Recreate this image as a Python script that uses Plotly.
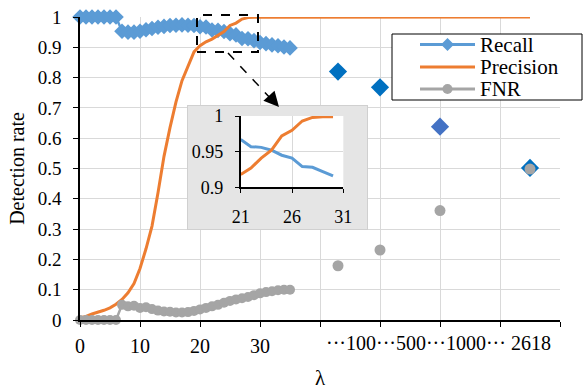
import plotly.graph_objects as go

# ---------------- data ----------------
lam = [0, 1, 2, 3, 4, 5, 6, 7, 8, 9, 10, 11, 12, 13, 14, 15, 16, 17, 18, 19, 20,
       21, 22, 23, 24, 25, 26, 27, 28, 29, 30, 31, 32, 33, 34, 35]
recall = [1.0, 1.0, 1.0, 1.0, 1.0, 1.0, 1.0,
          0.953, 0.950, 0.950, 0.953, 0.958, 0.962, 0.966, 0.969, 0.972, 0.973, 0.974, 0.973, 0.972, 0.968,
          0.967, 0.957, 0.956, 0.952, 0.945, 0.941, 0.929, 0.928, 0.922, 0.916, 0.912, 0.908, 0.905, 0.901, 0.898]
precision = [0.007, 0.012, 0.020, 0.025, 0.032, 0.040, 0.052, 0.068, 0.090, 0.120, 0.170,
             0.235, 0.310, 0.420, 0.540, 0.635, 0.720, 0.790, 0.840, 0.885, 0.905,
             0.918, 0.927, 0.941, 0.952, 0.972, 0.980, 0.993, 0.998, 0.999, 0.999,
             1.0, 1.0, 1.0, 1.0, 1.0]
fnr = [0.0, 0.0, 0.0, 0.0, 0.0, 0.0, 0.0,
       0.050, 0.045, 0.047, 0.040, 0.042, 0.036, 0.031, 0.028, 0.027, 0.025, 0.025, 0.026, 0.030, 0.035,
       0.040, 0.045, 0.050, 0.057, 0.063, 0.068, 0.072, 0.076, 0.082, 0.088, 0.092, 0.095, 0.098, 0.100, 0.100]

# large lambda values shown on a broken axis
big_labels = ["100", "500", "1000", "2618"]
big_axis_pos = [43, 50, 60, 75]
recall_big = [0.820, 0.768, 0.638, 0.502]
precision_big = [1.0, 1.0, 1.0, 1.0]
fnr_big = [0.179, 0.231, 0.361, 0.498]

small_ticks = [0, 10, 20, 30]
inset_range = [21, 31]
series_names = ["Recall", "Precision", "FNR"]

# ---------------- style ----------------
FONT = "Liberation Serif, 'Times New Roman', Times, serif"
C_REC, C_PRE, C_FNR = "#5B9BD5", "#ED7D31", "#A5A5A5"
BIG_REC_COLORS = ["#0070C0", "#0070C0", "#4472C4", "#0070C0"]
W, H = 583, 390
L, R, T, B = 80, 560, 17, 320


def px(x):
    return (x - L) / (R - L)


def py(y):
    return (B - y) / (B - T)


def f(size, family=FONT):
    return dict(family=family, size=size, color="black")


fig = go.Figure()

fig.add_trace(go.Scatter(x=lam, y=recall, name=series_names[0], mode="lines+markers",
                         line=dict(color=C_REC, width=2.5),
                         marker=dict(symbol="diamond", size=12, color=C_REC),
                         cliponaxis=False, showlegend=False))
fig.add_trace(go.Scatter(x=lam + big_axis_pos, y=precision + precision_big, name=series_names[1],
                         mode="lines", line=dict(color=C_PRE, width=3), cliponaxis=False,
                         showlegend=False))
fig.add_trace(go.Scatter(x=lam, y=fnr, name=series_names[2], mode="lines+markers",
                         line=dict(color=C_FNR, width=2.5),
                         marker=dict(symbol="circle", size=10, color=C_FNR),
                         cliponaxis=False, showlegend=False))
fig.add_trace(go.Scatter(x=big_axis_pos, y=recall_big, mode="markers", showlegend=False,
                         name=series_names[0],
                         marker=dict(symbol="diamond", size=14, color=BIG_REC_COLORS),
                         cliponaxis=False))
fig.add_trace(go.Scatter(x=big_axis_pos, y=fnr_big, mode="markers", showlegend=False,
                         name=series_names[2],
                         marker=dict(symbol="circle", size=11, color=C_FNR),
                         cliponaxis=False))

# inset background panel (own subplot, drawn over the main grid)
fig.add_trace(go.Scatter(x=[0, 1, 1, 0, 0], y=[0, 0, 1, 1, 0], xaxis="x2", yaxis="y2",
                         fill="toself", fillcolor="#E5E5E5", mode="lines",
                         line=dict(color="#D0D0D0", width=2), showlegend=False, hoverinfo="skip"))

# inset curves
i0, i1 = lam.index(inset_range[0]), lam.index(30)
fig.add_trace(go.Scatter(x=lam[i0:i1 + 1], y=recall[i0:i1 + 1], xaxis="x3", yaxis="y3",
                         mode="lines", line=dict(color=C_REC, width=3), showlegend=False))
fig.add_trace(go.Scatter(x=lam[i0:i1 + 1], y=precision[i0:i1 + 1], xaxis="x3", yaxis="y3",
                         mode="lines", line=dict(color=C_PRE, width=3), showlegend=False))

grid = "#D9D9D9"
fig.update_layout(
    template="none",
    width=W, height=H,
    margin=dict(l=L, r=W - R, t=T, b=H - B, autoexpand=False),
    paper_bgcolor="white", plot_bgcolor="white",
    font=f(20),
    showlegend=False,
    xaxis=dict(range=[0, 80], tickvals=[0, 10, 20, 30, 40, 50, 60, 70, 80],
               ticktext=[str(v) for v in small_ticks] + [""] * 5,
               tickfont=f(20),
               showgrid=True, gridcolor=grid, gridwidth=1, zeroline=False, automargin=False,
               showline=True, linecolor="black", linewidth=1.5,
               ticks="outside", ticklen=5, tickcolor="black", ticklabelstandoff=2,
               title=dict(text="λ", font=f(21), standoff=18)),
    yaxis=dict(range=[0, 1], tickvals=[0, 0.1, 0.2, 0.3, 0.4, 0.5, 0.6, 0.7, 0.8, 0.9, 1.0],
               ticktext=["0", "0.1", "0.2", "0.3", "0.4", "0.5", "0.6", "0.7", "0.8", "0.9", "1"],
               tickfont=f(19),
               showgrid=True, gridcolor=grid, gridwidth=1, zeroline=False, automargin=False,
               showline=True, linecolor="black", linewidth=1.5,
               ticks="outside", ticklen=5, tickcolor="black", ticklabelstandoff=8,
               title=dict(text="Detection rate", font=f(20), standoff=8)),
    xaxis2=dict(domain=[px(187), px(368)], range=[0, 1], visible=False, anchor="y2", fixedrange=True),
    yaxis2=dict(domain=[py(230), py(105)], range=[0, 1], visible=False, anchor="x2", fixedrange=True),
    xaxis3=dict(domain=[px(240.7), px(343.3)], range=inset_range, tickvals=[21, 26, 31],
                anchor="y3", showgrid=True, gridcolor=grid, zeroline=False, automargin=False,
                showline=True, linecolor="black", linewidth=1.5,
                ticks="outside", ticklen=4, tickcolor="black", ticklabelstandoff=8,
                tickfont=f(18)),
    yaxis3=dict(domain=[py(187.3), py(116)], range=[0.9, 1.0], tickvals=[0.9, 0.95, 1.0],
                ticktext=["0.9", "0.95", "1"], anchor="x3", showgrid=True, gridcolor=grid,
                zeroline=False, showline=True, linecolor="black", linewidth=1.5, automargin=False,
                ticks="outside", ticklen=4, tickcolor="black", ticklabelstandoff=8,
                tickfont=f(18)),
)

# zoom window and dashed pointer
fig.add_shape(type="rect", xref="paper", yref="paper",
              x0=px(197), x1=px(258), y0=py(52), y1=py(15),
              line=dict(color="black", width=2, dash="dash"), layer="above")
fig.add_shape(type="line", xref="paper", yref="paper",
              x0=px(228), y0=py(53), x1=px(272), y1=py(100),
              line=dict(color="black", width=1.5, dash="dash"), layer="above")
fig.add_annotation(x=px(279), y=py(107), xref="paper", yref="paper", text="",
                   showarrow=True, arrowhead=2, arrowsize=2, arrowwidth=1.5,
                   arrowcolor="black", ax=-9, ay=-10)

# legend (drawn as a framed box with line samples)
fig.add_shape(type="rect", xref="paper", yref="paper", x0=px(392), x1=px(582),
              y0=py(100), y1=py(34), fillcolor="white", line=dict(color="black", width=1),
              layer="above")
row_y = [44.5, 67, 89]
row_col = [C_REC, C_PRE, C_FNR]
for name, yy, col in zip(series_names, row_y, row_col):
    fig.add_shape(type="line", xref="paper", yref="paper", x0=px(420), x1=px(475),
                  y0=py(yy), y1=py(yy), line=dict(color=col, width=3), layer="above")
    fig.add_annotation(x=px(478), y=py(yy), xref="paper", yref="paper", text=name,
                       xanchor="left", yanchor="middle", showarrow=False, font=f(21))
cx = 447.5
fig.add_shape(type="path", xref="paper", yref="paper", layer="above",
              path="M {},{} L {},{} L {},{} L {},{} Z".format(
                  px(cx - 6.5), py(row_y[0]), px(cx), py(row_y[0] - 6.5),
                  px(cx + 6.5), py(row_y[0]), px(cx), py(row_y[0] + 6.5)),
              fillcolor=C_REC, line=dict(color=C_REC, width=0))
fig.add_shape(type="circle", xref="paper", yref="paper", layer="above",
              x0=px(cx - 5), x1=px(cx + 5), y0=py(row_y[2] + 5), y1=py(row_y[2] - 5),
              fillcolor=C_FNR, line=dict(color=C_FNR, width=0))

# labels of the broken part of the lambda axis
dots = "···"
fig.add_annotation(x=px(438), y=py(343), xref="paper", yref="paper",
                   xanchor="center", yanchor="middle",
                   text=dots + dots.join(big_labels[:3]) + dots + " " + big_labels[3],
                   showarrow=False, font=f(20))

fig.write_html("out.html", config={"displayModeBar": False},
               post_script="document.body.style.margin='0';"
                           "document.body.style.padding='0';")
